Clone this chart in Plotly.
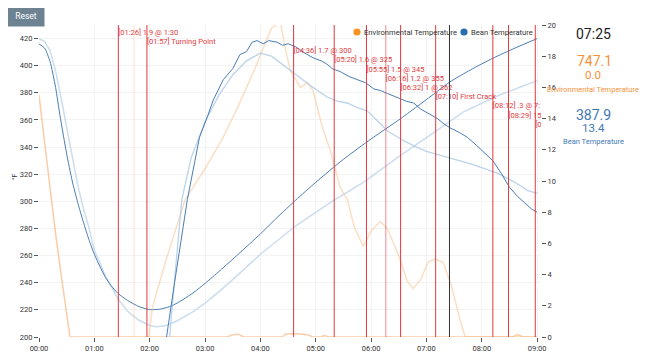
import plotly.graph_objects as go

# ---------------- data ----------------
tick_minutes = [0, 1, 2, 3, 4, 5, 6, 7, 8, 9]
tick_labels = ["00:00", "01:00", "02:00", "03:00", "04:00", "05:00", "06:00", "07:00", "08:00", "09:00"]

# Bean temperature (current roast), minutes / °F
bt_t = [0, 0.1, 0.2, 0.3, 0.38, 0.5, 0.6, 0.7, 0.8, 0.9, 1.0, 1.1, 1.2, 1.3, 1.43, 1.6, 1.8, 2.0, 2.2, 2.4,
        2.6, 2.8, 3.0, 3.27, 3.6, 4.0, 4.3, 4.64, 5.0, 5.5, 6.0, 6.5, 6.8, 7.0, 7.42, 7.8, 8.2, 8.6, 9.0]
bt_v = [416, 413, 403, 384, 363, 335, 315, 299, 285, 272, 261, 252, 244, 238, 232, 227, 222.5, 220.2, 220.6, 223,
        227.5, 233, 239.5, 249, 261, 276, 288, 301, 314, 331, 346, 360, 369, 375, 387.9, 397, 405.5, 413, 420]

# Bean temperature (background profile)
gbt_t = [0, 0.1, 0.2, 0.3, 0.4, 0.5, 0.6, 0.7, 0.8, 0.9, 1.0, 1.2, 1.43, 1.6, 1.8, 2.0, 2.13, 2.3, 2.5, 2.8,
         3.0, 3.27, 3.6, 4.0, 4.64, 5.26, 5.86, 6.5, 7.0, 7.67, 8.3, 9.0]
gbt_v = [420, 418, 411, 396, 376, 354, 332, 312, 295, 281, 264, 245, 228, 219, 212.5, 208.5, 207.5, 208.5, 212, 219,
         225, 234, 246, 261, 282, 299, 314, 333, 347, 366, 378, 389]

# Bean rate of rise (current), per 30 s
ror_t = [2.2, 2.3, 2.45, 2.68, 2.9, 3.05, 3.15, 3.33, 3.5, 3.63, 3.75, 3.85, 3.94, 4.05, 4.15, 4.3, 4.4, 4.5, 4.64,
         4.8, 4.95, 5.1, 5.2, 5.3, 5.45, 5.6, 5.8, 5.9, 6.05, 6.17, 6.3, 6.5, 6.65, 6.77, 6.9, 7.05, 7.2, 7.3,
         7.43, 7.6, 7.74, 7.9, 8.05, 8.2, 8.35, 8.5, 8.65, 8.8, 8.9, 9.0]
ror_v = [-2.5, 0, 3.5, 8.8, 12.8, 14.2, 15.2, 16.5, 17.2, 18.1, 18.3, 18.9, 19.0, 18.8, 19.0, 18.9, 18.7, 18.8, 18.6,
         18.2, 17.9, 17.7, 17.5, 17.2, 17.0, 16.7, 16.4, 16.3, 15.9, 15.8, 15.6, 15.3, 15.1, 15.0, 14.6, 14.3, 14.0,
         13.7, 13.4, 13.1, 12.8, 12.3, 11.8, 11.3, 10.5, 9.6, 9.0, 8.5, 8.2, 8.0]

# Bean rate of rise (background profile)
gror_t = [2.25, 2.36, 2.47, 2.58, 2.75, 3.0, 3.25, 3.5, 3.75, 4.0, 4.2, 4.54, 4.75, 4.95, 5.2, 5.4, 5.57, 5.75,
          5.93, 6.1, 6.3, 6.58, 6.8, 7.0, 7.2, 7.5, 7.8, 8.05, 8.28, 8.5, 8.7, 8.82, 9.0]
gror_v = [-2, 0, 4.5, 8.8, 11.5, 13.8, 15.5, 16.8, 17.7, 18.2, 18.0, 17.1, 16.5, 16.0, 15.4, 15.1, 15.0, 14.7,
          14.5, 13.9, 13.2, 12.6, 12.2, 11.9, 11.7, 11.4, 11.1, 10.8, 10.5, 10.1, 9.7, 9.4, 9.2]

# Environmental rate of rise (current)
env_t = [0, 0.1, 0.2, 0.3, 0.4, 0.5, 0.56, 3.4, 3.5, 3.6, 3.7, 4.4, 4.45, 4.6, 4.75, 4.85, 4.95, 5.1, 5.15, 5.25,
         8.55, 8.65, 8.75, 9.0]
env_v = [15.5, 12.6, 9.4, 6.6, 4.0, 1.6, 0, 0, 0.15, 0.18, 0, 0, 0.2, 0.22, 0.2, 0.15, 0, 0, 0.1, 0,
         0, 0.15, 0, 0]

# Environmental rate of rise (background profile)
genv_t = [1.95, 2.05, 2.3, 2.64, 3.0, 3.3, 3.6, 3.9, 4.2, 4.36, 4.45, 4.54, 4.72, 4.85, 4.95, 5.13, 5.26, 5.44,
          5.57, 5.7, 5.86, 6.0, 6.17, 6.3, 6.5, 6.65, 6.76, 6.9, 7.03, 7.15, 7.3, 7.45, 7.6, 7.7, 9.0]
genv_v = [-1, 1.9, 5.0, 8.8, 10.8, 12.6, 14.8, 17.2, 19.8, 20.2, 18.5, 17.1, 16.0, 16.3, 15.8, 13.3, 12.0, 9.6,
          8.8, 7.0, 5.8, 6.8, 7.4, 6.9, 5.2, 3.6, 3.1, 3.7, 4.8, 5.0, 4.8, 3.3, 1.2, 0, 0]

# Events
event_times = ["01:26", "01:57", "04:36", "05:20", "05:55", "06:16", "06:32", "07:10", "08:12", "08:29", "08:58"]
event_texts = ["[01:26] 1.9 @ 1:30", "[01:57] Turning Point", "[04:36] 1.7 @ 300", "[05:20] 1.6 @ 325",
               "[05:55] 1.5 @ 345", "[06:16] 1.2 @ 355", "[06:32] 1 @ 362", "[07:10] First Crack",
               "[08:12] .3 @ 7:15", "[08:29] 15 @ 400", "[08:58] Drop"]
marker_time = "01:43"
cursor_time = "07:25"

legend_names = ["Environmental Temperature", "Bean Temperature"]

# Readout panel
readout_time = "07:25"
readout_env = "747.1"
readout_env_ror = "0.0"
readout_bt = "387.9"
readout_bt_ror = "13.4"


def to_min(s):
    m, sec = s.split(":")
    return int(m) + int(sec) / 60.0


ev_x = [to_min(s) for s in event_times]

# ---------------- figure ----------------
BLUE = "#4a7db3"
ORANGE = "#f5923a"
LEG_ORANGE = "#f7931e"
LEG_BLUE = "#2a6eb0"
RED = "#e0393e"
FONT = "Roboto"

fig = go.Figure()

fig.add_trace(go.Scatter(x=genv_t, y=genv_v, yaxis="y2", mode="lines",
                         line=dict(color="rgba(248,196,150,0.55)", width=1.5), showlegend=False, hoverinfo="skip"))
fig.add_trace(go.Scatter(x=env_t, y=env_v, yaxis="y2", mode="lines",
                         line=dict(color="rgba(246,170,110,0.6)", width=1.5), showlegend=False, hoverinfo="skip"))
fig.add_trace(go.Scatter(x=gbt_t, y=gbt_v, mode="lines",
                         line=dict(color="rgba(190,212,234,0.8)", width=1.5), showlegend=False, hoverinfo="skip"))
fig.add_trace(go.Scatter(x=gror_t, y=gror_v, yaxis="y2", mode="lines",
                         line=dict(color="rgba(170,200,228,0.8)", width=1.3), showlegend=False, hoverinfo="skip"))
fig.add_trace(go.Scatter(x=bt_t, y=bt_v, mode="lines",
                         line=dict(color=BLUE, width=1, shape="spline", smoothing=0.6), showlegend=False, hoverinfo="skip"))
fig.add_trace(go.Scatter(x=ror_t, y=ror_v, yaxis="y2", mode="lines",
                         line=dict(color=BLUE, width=1), showlegend=False, hoverinfo="skip"))

# event labels (clipped to the plot area)
label_rows = [(337 - (33 + 9.2 * i)) / 15.6 for i in range(len(ev_x))]
fig.add_trace(go.Scatter(x=ev_x, y=label_rows, yaxis="y2", mode="text", text=event_texts,
                         textposition="middle right", textfont=dict(color=RED, size=7.5, family=FONT),
                         cliponaxis=True, showlegend=False, hoverinfo="skip"))

# plot area in page pixels: x 39..541, y 25..337 (page has an 8px body margin)
PW = 502.0
PH = 312.0


def px(xp):
    return (xp - 39) / PW


def py(yp):
    return (337 - yp) / PH


shapes = []
shapes.append(dict(type="line", xref="x", yref="paper", x0=to_min(marker_time), x1=to_min(marker_time),
                   y0=0, y1=1, line=dict(color="rgba(246,170,110,0.35)", width=1)))
for i, x in enumerate(ev_x):
    col = "rgba(224,57,62,0.6)" if event_times[i] == "06:16" else RED
    shapes.append(dict(type="line", xref="x", yref="paper", x0=x, x1=x, y0=0, y1=1,
                       line=dict(color=col, width=1)))
shapes.append(dict(type="line", xref="x", yref="paper", x0=to_min(cursor_time), x1=to_min(cursor_time),
                   y0=0, y1=1, line=dict(color="#333333", width=1)))

# custom legend (dot + label) inside the top of the plot
legend_items = [(357, LEG_ORANGE, legend_names[0]), (464, LEG_BLUE, legend_names[1])]
annotations = []
for lx, col, name in legend_items:
    shapes.append(dict(type="circle", xref="paper", yref="paper", xsizemode="pixel", ysizemode="pixel",
                       xanchor=px(lx), yanchor=py(32), x0=-3.6, x1=3.6, y0=-3.6, y1=3.6,
                       fillcolor=col, line=dict(width=0)))
    annotations.append(dict(text=name, x=px(lx + 5), y=py(32), xref="paper", yref="paper", showarrow=False,
                            xanchor="left", yanchor="middle", font=dict(color="#333", size=7.6, family=FONT)))


def ann(text, xp, yp, size, color):
    return dict(text=text, x=px(xp), y=py(yp), xref="paper", yref="paper", showarrow=False,
                xanchor="center", yanchor="middle", font=dict(color=color, size=size, family=FONT))


annotations += [
    dict(text="Reset", x=px(26), y=py(15.5), xref="paper", yref="paper", showarrow=False,
         xanchor="center", yanchor="middle", bgcolor="#6d8392", width=36, height=21, borderpad=0,
         font=dict(color="white", size=8.5, family=FONT)),
    dict(text="°F", x=px(15), y=py(177), xref="paper", yref="paper", showarrow=False, textangle=-90,
         xanchor="center", yanchor="middle", font=dict(color="#333", size=7, family=FONT)),
    ann(readout_time, 593, 34, 14, "#222"),
    ann(readout_env, 594, 61, 14, ORANGE),
    ann(readout_env_ror, 593, 74.5, 11.5, ORANGE),
    ann("Environmental Temperature", 593, 89, 7.5, ORANGE),
    ann(readout_bt, 593, 115.5, 14, "#3f78b5"),
    ann(readout_bt_ror, 593, 127.5, 11.5, "#3f78b5"),
    ann("Bean Temperature", 593, 141, 7.5, "#3f78b5"),
]

fig.update_layout(
    width=642, height=348,
    margin=dict(l=31, r=109, t=17, b=19, autoexpand=False),
    paper_bgcolor="white", plot_bgcolor="white",
    font=dict(family=FONT, size=7.5, color="#333"),
    showlegend=False,
    xaxis=dict(range=[0, 9.07], tickvals=tick_minutes, ticktext=tick_labels, ticks="outside", ticklen=4,
               tickcolor="#555", showgrid=True, gridcolor="#f3f3f3", zeroline=False, showline=False,
               tickfont=dict(size=7.5, color="#333"), automargin=False),
    yaxis=dict(range=[200, 430], dtick=20, tick0=200, ticks="outside", ticklen=4, tickcolor="#555",
               showgrid=True, gridcolor="#f3f3f3", zeroline=False, showline=False,
               tickfont=dict(size=7.5, color="#333"), automargin=False),
    yaxis2=dict(range=[0, 20], dtick=2, overlaying="y", side="right", ticks="outside", ticklen=4,
                tickcolor="#555", showgrid=False, zeroline=False, showline=False,
                tickfont=dict(size=7.5, color="#333"), automargin=False),
    shapes=shapes,
    annotations=annotations,
)

fig.write_html("out.html")
